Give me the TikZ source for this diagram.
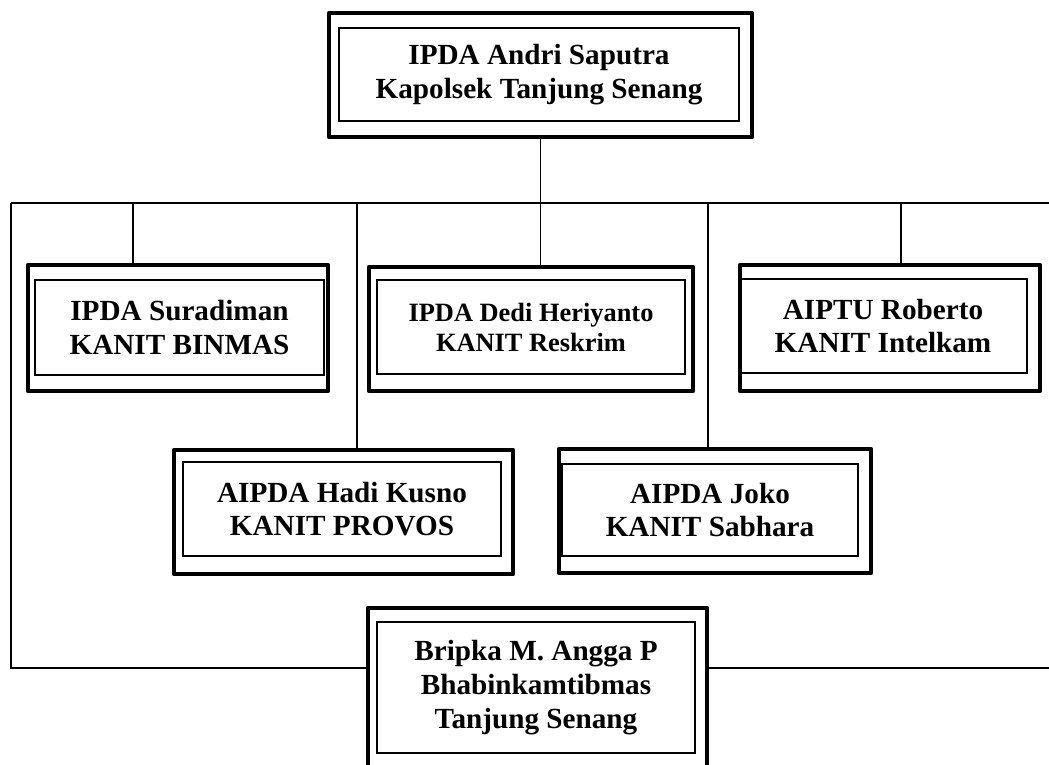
\documentclass[tikz,border=0pt]{standalone}
\usepackage{fontspec}
\setmainfont{Liberation Serif}
\begin{document}
\begin{tikzpicture}[x=0.5pt,y=-0.5pt,
  outerbox/.style={draw,line width=2.3pt,line join=round,inner sep=0pt},
  innerbox/.style={draw,line width=1pt,inner sep=0pt,align=center,
    font=\bfseries\fontsize{14.6}{16.8}\selectfont},
  link/.style={line width=0.8pt}]
\useasboundingbox (0,0) rectangle (1049,765);
\clip (0,0) rectangle (1049,765);
% boxes
\node[outerbox,minimum width=211.5pt,minimum height=62pt] (kapolsek) at (540.5,75) {};
\node[innerbox,minimum width=200pt,minimum height=46.5pt] (kapolsekin) at (539,74.5)
  {IPDA Andri Saputra\\Kapolsek Tanjung Senang};
\node[outerbox,minimum width=150pt,minimum height=63pt] (binmas) at (178,328) {};
\node[innerbox,minimum width=144.5pt,minimum height=47.5pt] (binmasin) at (179.5,327.5)
  {IPDA Suradiman\\KANIT BINMAS};
\node[outerbox,minimum width=162pt,minimum height=62pt] (reskrim) at (531,329) {};
\node[innerbox,minimum width=154pt,minimum height=47pt,
  font=\bfseries\fontsize{13.2}{15}\selectfont] (reskrimin) at (531,327)
  {IPDA Dedi Heriyanto\\KANIT Reskrim};
\node[outerbox,minimum width=150pt,minimum height=63pt] (intelkam) at (890,328) {};
\node[innerbox,minimum width=144pt,minimum height=47pt] (intelkamin) at (883,326)
  {AIPTU Roberto\\KANIT Intelkam};
\node[outerbox,minimum width=169.5pt,minimum height=62pt] (provos) at (343.5,512) {};
\node[innerbox,minimum width=159pt,minimum height=47pt] (provosin) at (342,509)
  {AIPDA Hadi Kusno\\KANIT PROVOS};
\node[outerbox,minimum width=156pt,minimum height=62pt] (sabhara) at (715,511) {};
\node[innerbox,minimum width=148pt,minimum height=46pt] (sabharain) at (710,510)
  {AIPDA Joko\\KANIT Sabhara};
\node[outerbox,minimum width=169.5pt,minimum height=81pt] (bhabin) at (537.5,689) {};
\node[innerbox,minimum width=159pt,minimum height=65.5pt] (bhabinin) at (536,687.5)
  {Bripka M. Angga P\\Bhabinkamtibmas\\Tanjung Senang};
% lines
\coordinate (busL) at (11,203);
\coordinate (busR) at (1049,203);
\coordinate (corner) at (11,668);
\coordinate (dA) at (133,203);
\coordinate (dB) at (357,203);
\coordinate (dC) at (708,203);
\coordinate (dD) at (901,203);
\draw[link] (kapolsek.south) -- (kapolsek.south |- busL);
\draw[link] (busL) -- (busR);
\draw[link] (busL) -- (corner) -- (corner -| bhabin.west);
\draw[link] (bhabin.east |- corner) -- (corner -| busR);
\draw[link] (dA) -- (dA |- binmas.north);
\draw[link] (dB) -- (dB |- provos.north);
\draw[link] (kapolsek.south |- busL) -- (kapolsek.south |- reskrim.north);
\draw[link] (dC) -- (dC |- sabhara.north);
\draw[link] (dD) -- (dD |- intelkam.north);
\end{tikzpicture}
\end{document}
